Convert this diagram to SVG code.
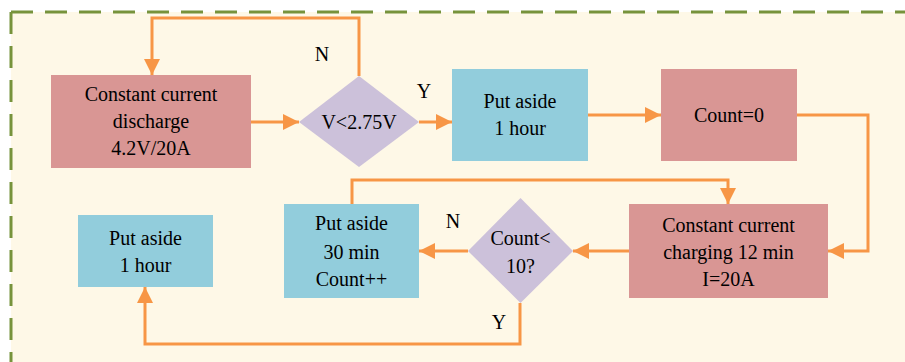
<svg xmlns="http://www.w3.org/2000/svg" width="905" height="362" viewBox="0 0 905 362" font-family="Liberation Serif, Times New Roman, DejaVu Serif, serif">
<defs>
<style>
.t{font-size:20px;fill:#000;text-anchor:middle}
.red{fill:#D99694}
.blue{fill:#92CDDC}
.dia{fill:#CCC1DA}
.c{fill:none;stroke:#F79646;stroke-width:3}
</style>
<marker id="ah" viewBox="0 0 10 10" refX="10" refY="5" markerWidth="16" markerHeight="16" markerUnits="userSpaceOnUse" orient="auto">
<path d="M0,0 L10,5 L0,10 z" fill="#F79646"/>
</marker>
</defs>
<rect x="11" y="12" width="900" height="360" fill="#FEF8E7"/>
<path d="M11,12 H905 M11,12 V362" fill="none" stroke="#77933C" stroke-width="3" stroke-dasharray="22,12"/>
<g id="connectors">
<path class="c" d="M251,122 H299" marker-end="url(#ah)"/>
<path class="c" d="M359,76 V18 H152 V75" marker-end="url(#ah)"/>
<path class="c" d="M419,122 H452" marker-end="url(#ah)"/>
<path class="c" d="M588,115 H661" marker-end="url(#ah)"/>
<path class="c" d="M797,115 H868 V251 H828" marker-end="url(#ah)"/>
<path class="c" d="M629,251 H573" marker-end="url(#ah)"/>
<path class="c" d="M468,251 H419" marker-end="url(#ah)"/>
<path class="c" d="M352,204 V180 H728 V204" marker-end="url(#ah)"/>
<path class="c" d="M520,303 V344 H145 V287" marker-end="url(#ah)"/>
<text class="t" x="322" y="61">N</text>
<text class="t" x="424" y="98">Y</text>
<text class="t" x="453" y="228">N</text>
<text class="t" x="499" y="329">Y</text>
</g>
<g id="discharge">
<rect class="red" x="51" y="75" width="200" height="93"/>
<text class="t" x="151" y="101">Constant current</text>
<text class="t" x="151" y="128">discharge</text>
<text class="t" x="151" y="155">4.2V/20A</text>
</g>
<g id="check-voltage">
<polygon class="dia" points="359,76 419,122 359,167 299,122"/>
<text class="t" x="359" y="129">V&lt;2.75V</text>
</g>
<g id="rest1">
<rect class="blue" x="452" y="69" width="136" height="92"/>
<text class="t" x="520" y="108">Put aside</text>
<text class="t" x="520" y="135">1 hour</text>
</g>
<g id="count0">
<rect class="red" x="661" y="69" width="136" height="92"/>
<text class="t" x="729" y="122">Count=0</text>
</g>
<g id="charging">
<rect class="red" x="629" y="204" width="199" height="94"/>
<text class="t" x="728.5" y="232">Constant current</text>
<text class="t" x="728.5" y="259">charging 12 min</text>
<text class="t" x="728.5" y="286">I=20A</text>
</g>
<g id="check-count">
<polygon class="dia" points="520.5,198 573,251 520.5,303 468,251"/>
<text class="t" x="520.5" y="245">Count&lt;</text>
<text class="t" x="520.5" y="273">10?</text>
</g>
<g id="rest30">
<rect class="blue" x="284" y="204" width="135" height="94"/>
<text class="t" x="351.5" y="230">Put aside</text>
<text class="t" x="351.5" y="259">30 min</text>
<text class="t" x="351.5" y="286">Count++</text>
</g>
<g id="rest-final">
<rect class="blue" x="78" y="215" width="135" height="72"/>
<text class="t" x="145.5" y="245">Put aside</text>
<text class="t" x="145.5" y="272">1 hour</text>
</g>
</svg>
